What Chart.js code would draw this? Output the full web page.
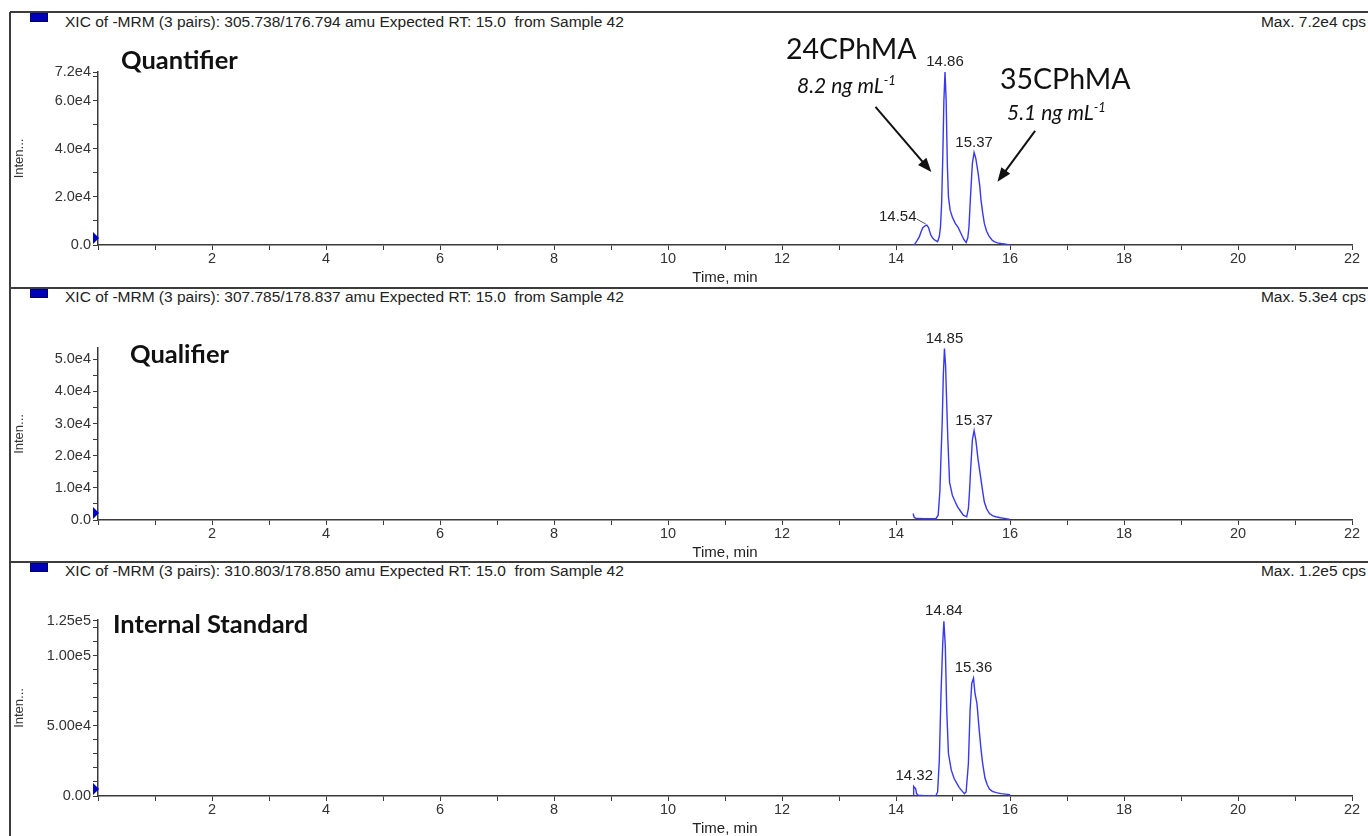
<!DOCTYPE html>
<html>
<head>
<meta charset="utf-8">
<script src="https://cdn.jsdelivr.net/npm/chart.js@4.4.1/dist/chart.umd.min.js"></script>
<style>
body { margin:0; width:1368px; height:836px; overflow:hidden; background:#fff; position:relative; font-family:"Liberation Sans", Arial, sans-serif; }
.hline { position:absolute; left:10px; width:1358px; height:2px; background:#3c3c3c; }
.vline { position:absolute; left:9px; top:12px; width:2px; height:824px; background:#3c3c3c; }
.sq { position:absolute; left:30px; width:16px; height:7px; background:#0000b8; border:1px solid #00006a; }
.hdr { position:absolute; left:65px; font-size:15.5px; line-height:18px; color:#222; white-space:pre; }
.max { position:absolute; right:2px; font-size:15.5px; line-height:18px; color:#222; }
.lbl { position:absolute; font-family:Lato, "Open Sans", sans-serif; color:#111; white-space:nowrap; }
.big { font-size:28.5px; line-height:34px; }
.conc { font-size:21px; line-height:24px; font-style:italic; }
.conc sup { font-size:13px; vertical-align:8px; line-height:0; }
.name { font-size:25.5px; line-height:30px; font-weight:bold; }
canvas { position:absolute; left:0; }
</style>
</head>
<body>
<div class="hline" style="top:11px"></div>
<div class="hline" style="top:287px"></div>
<div class="hline" style="top:561px"></div>
<div class="vline"></div>

<div class="sq" style="top:13px"></div>
<div class="hdr" style="top:13px">XIC of -MRM (3 pairs): 305.738/176.794 amu Expected RT: 15.0  from Sample 42</div>
<div class="max" style="top:13px">Max. 7.2e4 cps</div>
<div class="sq" style="top:289px"></div>
<div class="hdr" style="top:288px">XIC of -MRM (3 pairs): 307.785/178.837 amu Expected RT: 15.0  from Sample 42</div>
<div class="max" style="top:288px">Max. 5.3e4 cps</div>
<div class="sq" style="top:563px"></div>
<div class="hdr" style="top:562px">XIC of -MRM (3 pairs): 310.803/178.850 amu Expected RT: 15.0  from Sample 42</div>
<div class="max" style="top:562px">Max. 1.2e5 cps</div>

<canvas id="c1" width="1368" height="276" style="top:12px"></canvas>
<canvas id="c2" width="1368" height="274" style="top:288px"></canvas>
<canvas id="c3" width="1368" height="276" style="top:562px"></canvas>

<div class="lbl name" style="left:121px;top:44px">Quantifier</div>
<div class="lbl name" style="left:130px;top:338px">Qualifier</div>
<div class="lbl name" style="left:113px;top:608px">Internal Standard</div>
<div class="lbl big" style="left:786px;top:31px">24CPhMA</div>
<div class="lbl conc" style="left:797px;top:73px">8.2 ng mL<sup>-1</sup></div>
<div class="lbl big" style="left:1000px;top:61px">35CPhMA</div>
<div class="lbl conc" style="left:1007px;top:100px">5.1 ng mL<sup>-1</sup></div>

<script>
// retention time (min) and intensity (cps)
const times1 = [14.30,14.33,14.37,14.41,14.44,14.47,14.51,14.54,14.57,14.61,14.65,14.69,14.73,14.76,14.78,14.80,14.82,14.84,14.86,14.88,14.90,14.92,14.95,14.99,15.04,15.09,15.14,15.19,15.23,15.26,15.28,15.31,15.34,15.37,15.40,15.42,15.44,15.47,15.49,15.52,15.55,15.59,15.63,15.68,15.72,15.78,15.84,15.92,16.00];
const values1 = [0,400,1800,3500,5500,7200,8000,8300,7300,4200,2700,1900,1400,3500,7500,17000,36000,60000,72000,60000,34000,20000,14500,11500,9000,7300,4800,2300,1000,3000,7500,21500,34000,38500,36000,33000,30000,24500,19000,13500,9000,5700,3800,2200,1400,900,600,300,0];

const times2 = [14.30,14.32,14.35,14.38,14.50,14.62,14.70,14.74,14.77,14.79,14.81,14.83,14.85,14.87,14.89,14.91,14.94,14.99,15.04,15.08,15.13,15.18,15.24,15.27,15.29,15.31,15.34,15.37,15.40,15.44,15.49,15.52,15.55,15.59,15.64,15.70,15.75,15.83,15.90,16.00];
const values2 = [2000,800,500,500,400,400,400,1500,9000,20000,30000,45000,53300,48000,36000,24900,11700,7600,5600,4100,2800,1500,1000,3500,9000,15800,24900,27800,24900,18800,12700,9000,5600,3500,2000,1300,1000,700,500,200];

const times3 = [14.30,14.31,14.33,14.345,14.36,14.39,14.50,14.62,14.70,14.73,14.76,14.79,14.82,14.84,14.865,14.89,14.92,14.97,15.02,15.07,15.11,15.15,15.20,15.23,15.27,15.30,15.33,15.36,15.385,15.42,15.46,15.49,15.52,15.56,15.60,15.64,15.69,15.76,15.84,15.92,15.99,16.00];
const values3 = [0,6900,5800,5200,1700,500,300,200,200,2900,25500,73300,109000,124600,106700,61300,30300,18400,12500,8800,6000,4000,1700,2900,23200,61300,80400,84000,73300,66100,47000,34000,23200,13000,8000,5000,3300,2400,1700,1300,1000,0];

// labelled peaks
const peakTimes1 = [14.54, 14.86, 15.37];
const peakHeights1 = [8300, 72000, 38500];
const peakTimes2 = [14.85, 15.37];
const peakHeights2 = [53300, 27800];
const peakTimes3 = [14.32, 14.84, 15.36];
const peakHeights3 = [6900, 124600, 84000];

// axis ticks
const xTickLabels = [2, 4, 6, 8, 10, 12, 14, 16, 18, 20, 22];
const yTicks1 = [0, 20000, 40000, 60000, 72000];
const yLabels1 = ['0.0', '2.0e4', '4.0e4', '6.0e4', '7.2e4'];
const yTicks2 = [0, 10000, 20000, 30000, 40000, 50000];
const yLabels2 = ['0.0', '1.0e4', '2.0e4', '3.0e4', '4.0e4', '5.0e4'];
const yTicks3 = [0, 50000, 100000, 125000];
const yLabels3 = ['0.00', '5.00e4', '1.00e5', '1.25e5'];

const axisColor = '#3a3a3a';
const textColor = '#333';
const arial = '"Liberation Sans", Arial, sans-serif';

const notesPlugin = {
    id: 'notes',
    afterDatasetsDraw(chart, args, opts) {
        const {ctx, chartArea} = chart;
        const x = chart.scales.x, y = chart.scales.y;
        ctx.save();

        // little blue marker at the origin
        const y0 = y.getPixelForValue(0);
        ctx.fillStyle = '#0000c8';
        ctx.beginPath();
        ctx.moveTo(chartArea.left - 5, y0 - 13);
        ctx.lineTo(chartArea.left + 1, y0 - 7);
        ctx.lineTo(chartArea.left - 5, y0 - 1);
        ctx.closePath();
        ctx.fill();

        // peak retention time labels
        ctx.font = '15px ' + arial;
        ctx.fillStyle = '#222';
        ctx.textAlign = 'center';
        ctx.textBaseline = 'middle';
        opts.times.forEach((t, i) => {
            const px = x.getPixelForValue(t);
            const py = y.getPixelForValue(opts.heights[i]);
            if (opts.leader === i) {
                ctx.fillText(t.toFixed(2), px - 29, py - 8);
                ctx.strokeStyle = '#555';
                ctx.lineWidth = 1;
                ctx.beginPath();
                ctx.moveTo(px - 10, py - 6);
                ctx.lineTo(px - 1, py - 1);
                ctx.stroke();
            } else {
                ctx.fillText(t.toFixed(2), px, py - 10);
            }
        });

        // arrows pointing at the two analytes
        (opts.arrows || []).forEach(a => {
            const x1 = x.getPixelForValue(a.from[0]), y1 = y.getPixelForValue(a.from[1]);
            const x2 = x.getPixelForValue(a.to[0]), y2 = y.getPixelForValue(a.to[1]);
            const ang = Math.atan2(y2 - y1, x2 - x1);
            ctx.strokeStyle = '#111';
            ctx.fillStyle = '#111';
            ctx.lineWidth = 2;
            ctx.beginPath();
            ctx.moveTo(x1, y1);
            ctx.lineTo(x2 - 9 * Math.cos(ang), y2 - 9 * Math.sin(ang));
            ctx.stroke();
            ctx.beginPath();
            ctx.moveTo(x2, y2);
            ctx.lineTo(x2 - 14 * Math.cos(ang) + 5.5 * Math.sin(ang), y2 - 14 * Math.sin(ang) - 5.5 * Math.cos(ang));
            ctx.lineTo(x2 - 14 * Math.cos(ang) - 5.5 * Math.sin(ang), y2 - 14 * Math.sin(ang) + 5.5 * Math.cos(ang));
            ctx.closePath();
            ctx.fill();
        });
        ctx.restore();
    }
};

const drawPanel = (id, times, values, p) => {
    new Chart(document.getElementById(id), {
        type: 'scatter',
        data: {
            datasets: [{
                data: times.map((t, i) => ({x: t, y: values[i]})),
                showLine: true,
                borderColor: '#3838f0',
                borderWidth: 1.4,
                pointRadius: 0,
                tension: 0
            }]
        },
        plugins: [notesPlugin],
        options: {
            responsive: false,
            animation: false,
            layout: {padding: {top: p.padTop, bottom: p.padBottom, left: 0, right: 16}},
            plugins: {
                legend: {display: false},
                tooltip: {enabled: false},
                notes: {times: p.peakTimes, heights: p.peakHeights, leader: p.leader, arrows: p.arrows}
            },
            scales: {
                x: {
                    type: 'linear',
                    min: 0,
                    max: 22,
                    afterFit: (s) => { s.height = 42; },
                    afterBuildTicks: (s) => {
                        const t = [];
                        for (let v = 0; v <= 22; v++) t.push({value: v});
                        s.ticks = t;
                    },
                    ticks: {
                        autoSkip: false,
                        maxRotation: 0,
                        padding: 0,
                        color: textColor,
                        font: {family: arial, size: 14.5},
                        callback: (v) => xTickLabels.includes(v) ? String(v) : ''
                    },
                    grid: {drawOnChartArea: false, tickLength: 5, color: axisColor, lineWidth: 1},
                    border: {color: axisColor, width: 1.5},
                    title: {
                        display: true,
                        text: 'Time, min',
                        color: '#222',
                        padding: 0,
                        font: {family: arial, size: 15}
                    }
                },
                y: {
                    min: 0,
                    max: p.yMax,
                    afterFit: (s) => { s.width = 98; },
                    afterBuildTicks: (s) => {
                        const t = [];
                        for (let v = 0; v <= p.yMax; v += p.yStep) t.push(v);
                        p.yTicks.forEach(v => { if (!t.includes(v)) t.push(v); });
                        t.sort((a, b) => a - b);
                        s.ticks = t.map(v => ({value: v}));
                    },
                    ticks: {
                        autoSkip: false,
                        padding: 2,
                        color: textColor,
                        font: {family: arial, size: 14.5},
                        callback: (v) => {
                            const i = p.yTicks.indexOf(v);
                            return i >= 0 ? p.yLabels[i] : '';
                        }
                    },
                    grid: {drawOnChartArea: false, tickLength: 5, color: axisColor, lineWidth: 1},
                    border: {color: axisColor, width: 1.5},
                    title: {
                        display: true,
                        text: 'Inten...',
                        color: textColor,
                        padding: {top: 12, bottom: 0},
                        font: {family: arial, size: 13}
                    }
                }
            }
        }
    });
};

drawPanel('c1', times1, values1, {
    yMax: 72000, yStep: 10000, yTicks: yTicks1, yLabels: yLabels1,
    padTop: 60, padBottom: 1,
    peakTimes: peakTimes1, peakHeights: peakHeights1, leader: 0,
    arrows: [{from: [13.64, 57500], to: [14.62, 30400]}, {from: [16.44, 47500], to: [15.78, 26300]}]
});
drawPanel('c2', times2, values2, {
    yMax: 53500, yStep: 5000, yTicks: yTicks2, yLabels: yLabels2,
    padTop: 60, padBottom: 0,
    peakTimes: peakTimes2, peakHeights: peakHeights2, leader: -1
});
drawPanel('c3', times3, values3, {
    yMax: 125500, yStep: 10000, yTicks: yTicks3, yLabels: yLabels3,
    padTop: 58, padBottom: 0,
    peakTimes: peakTimes3, peakHeights: peakHeights3, leader: -1
});
</script>
</body>
</html>
